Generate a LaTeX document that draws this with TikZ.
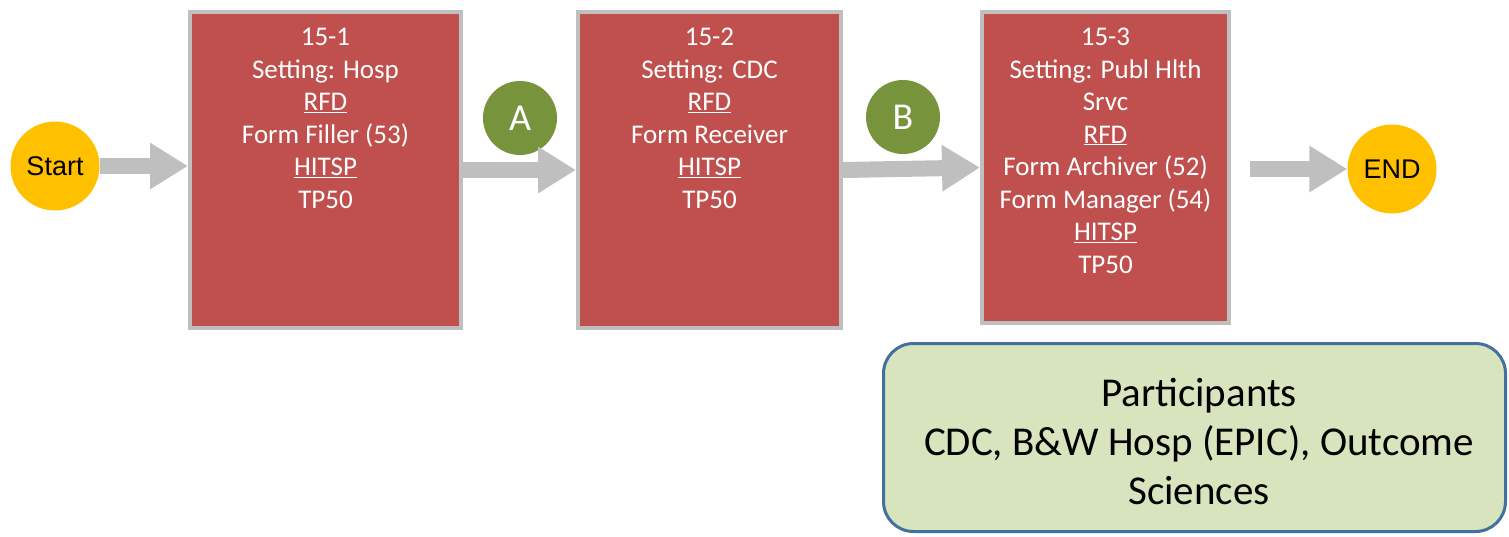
\documentclass[tikz,border=0pt]{standalone}
\usepackage{fontspec}
\setmainfont{Carlito}
\newfontfamily\arialf{Liberation Sans}
\usetikzlibrary{arrows.meta}
\definecolor{boxred}{HTML}{C0504D}
\definecolor{boxgray}{HTML}{BFBFBF}
\definecolor{goldc}{HTML}{FFC000}
\definecolor{olivec}{HTML}{77933C}
\definecolor{partfill}{HTML}{D7E4BD}
\definecolor{partline}{HTML}{41719C}
\tikzset{
  stepbox/.style={draw=boxgray, line width=4pt, fill=boxred, inner sep=0pt},
  boxtext/.style={anchor=north, inner sep=0pt, text=white, align=center,
    font=\fontsize{27}{32.5}\selectfont},
  term/.style={circle, fill=goldc, inner sep=0pt, minimum size=89pt,
    font=\arialf\fontsize{27}{30}\selectfont},
  marker/.style={circle, fill=olivec, inner sep=0pt, minimum size=74pt, text=white,
    font=\fontsize{38}{44}\selectfont},
  flow/.style={draw=boxgray, line width=16pt,
    -{Triangle[width=44pt,length=38pt]}},
}
\begin{document}
\begin{tikzpicture}[x=1pt,y=-1pt]
\useasboundingbox (0,0) rectangle (1509,536);
% boxes
\node[stepbox, minimum width=271pt, minimum height=316pt] (b1) at (325.5,170) {};
\node[stepbox, minimum width=263pt, minimum height=316pt] (b2) at (709.5,170) {};
\node[stepbox, minimum width=247pt, minimum height=311pt] (b3) at (1105.5,167.5) {};
\node[boxtext] (t1) at (325.5,28) {15-1\\Setting: Hosp\\\underline{RFD}\\Form Filler (53)\\\underline{HITSP}\\TP50};
\node[boxtext] (t2) at (709.5,28) {15-2\\Setting: CDC\\\underline{RFD}\\Form Receiver\\\underline{HITSP}\\TP50};
\node[boxtext] (t3) at (1105.5,28) {15-3\\Setting: Publ Hlth\\Srvc\\\underline{RFD}\\Form Archiver (52)\\Form Manager (54)\\\underline{HITSP}\\TP50};
% terminals
\node[term] (start) at (55,166) {Start};
\node[term] (end) at (1392,169) {END};
% markers
\node[marker] (A) at (520,118) {A};
\node[marker] (B) at (903,117) {B};
% arrows
\draw[flow] (start.east) -- (b1.west |- start.east);
\draw[flow] (b1.east) -- (b2.west);
\draw[flow] (b2.east) -- (b3.west);
\draw[flow, shorten <=19pt] (b3.east |- end.west) -- (end.west);
% participants
\node[draw=partline, line width=3pt, fill=partfill, rounded corners=30pt,
  minimum width=622pt, minimum height=188pt, inner sep=0pt] (part) at (1194.5,437.5) {};
\node[align=center, inner sep=0pt, font=\fontsize{41}{49}\selectfont] (ptext) at (1199,441)
  {Participants\\CDC, B\&W Hosp (EPIC), Outcome\\Sciences};
\end{tikzpicture}
\end{document}
